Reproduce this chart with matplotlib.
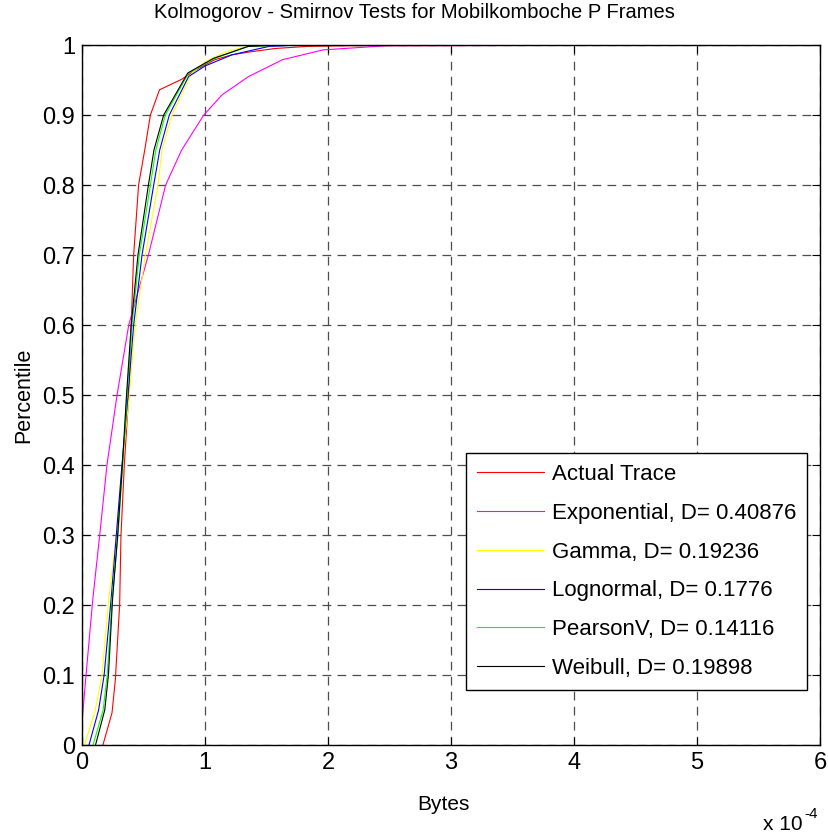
import matplotlib
matplotlib.use("Agg")
import matplotlib.pyplot as plt

plt.rcParams['font.family'] = ['Liberation Sans', 'DejaVu Sans']

# empirical trace and fitted CDFs, x in units of 1e-4 bytes
trace_x = [0.17, 0.244, 0.271, 0.306, 0.317, 0.344, 0.38, 0.40, 0.42, 0.46, 0.51, 0.556,
           0.63, 0.81, 0.92, 1.08, 1.22, 1.36, 1.57, 1.83, 2.15, 5.8]
trace_y = [0.0, 0.046, 0.093, 0.2, 0.3, 0.4, 0.5, 0.6, 0.7, 0.8, 0.85, 0.9,
           0.936, 0.951, 0.964, 0.979, 0.986, 0.99, 0.995, 0.998, 0.999, 1.0]

expo_x = [0.0, 0.033, 0.087, 0.144, 0.203, 0.285, 0.38, 0.54, 0.68, 0.81, 0.99,
          1.14, 1.355, 1.63, 1.96, 2.48, 5.48]
expo_y = [0.033, 0.1, 0.207, 0.3, 0.4, 0.5, 0.6, 0.7, 0.8, 0.85, 0.9,
          0.929, 0.955, 0.979, 0.993, 0.999, 1.0]

gamma_x = [0.02, 0.108, 0.163, 0.217, 0.279, 0.325, 0.385, 0.433, 0.515, 0.618, 0.65,
           0.73, 0.894, 1.0, 1.165, 1.38, 5.48]
gamma_y = [0.0, 0.05, 0.1, 0.207, 0.3, 0.4, 0.5, 0.6, 0.7, 0.8, 0.85,
           0.9, 0.96, 0.976, 0.99, 1.0, 1.0]

logn_x = [0.057, 0.135, 0.18, 0.236, 0.279, 0.325, 0.374, 0.42, 0.488, 0.583, 0.632,
          0.71, 0.867, 1.0, 1.22, 1.52, 1.77, 5.48]
logn_y = [0.0, 0.05, 0.1, 0.207, 0.3, 0.4, 0.5, 0.6, 0.7, 0.8, 0.85,
          0.9, 0.955, 0.97, 0.986, 0.998, 1.0, 1.0]

pear_x = [0.09, 0.172, 0.205, 0.244, 0.293, 0.331, 0.366, 0.407, 0.466, 0.556, 0.60,
          0.677, 0.867, 1.08, 1.355, 1.63, 5.48]
pear_y = [0.0, 0.05, 0.1, 0.207, 0.3, 0.4, 0.5, 0.6, 0.7, 0.8, 0.85,
          0.9, 0.96, 0.981, 0.998, 1.0, 1.0]

weib_x = [0.11, 0.185, 0.215, 0.248, 0.29, 0.328, 0.362, 0.40, 0.455, 0.54, 0.585,
          0.664, 0.86, 1.07, 1.35, 1.6, 5.48]
weib_y = [0.0, 0.05, 0.1, 0.207, 0.3, 0.4, 0.5, 0.6, 0.7, 0.8, 0.85,
          0.9, 0.96, 0.981, 0.998, 1.0, 1.0]

labels = ["Actual Trace", "Exponential, D= 0.40876", "Gamma, D= 0.19236",
          "Lognormal, D= 0.1776", "PearsonV, D= 0.14116", "Weibull, D= 0.19898"]
colors = ["#ff0000", "#ff00ff", "#ffff00", "#0000ff", "#00ff00", "#000000"]

series = [(trace_x, trace_y), (expo_x, expo_y), (gamma_x, gamma_y),
          (logn_x, logn_y), (pear_x, pear_y), (weib_x, weib_y)]

fig = plt.figure(figsize=(8.29, 8.34), dpi=100)
ax = fig.add_axes([82 / 829, 1 - 745 / 834, 738 / 829, 700 / 834])

for (xs, ys), lab, col in zip(series, labels, colors):
    ax.plot(xs, ys, color=col, lw=0.8, label=lab)

ax.set_xlim(0, 6)
ax.set_ylim(0, 1)
ax.set_xticks(range(0, 7))
ax.set_yticks([i / 10 for i in range(11)])
ax.set_yticklabels(["0"] + ["%.1f" % (i / 10) for i in range(1, 10)] + ["1"])
ax.tick_params(direction="in", length=6, top=True, right=True, labelsize=17, pad=5)
ax.grid(True, color="0.3", lw=0.9, linestyle=(0, (7, 5)))
for sp in ax.spines.values():
    sp.set_linewidth(1.0)

# title sits centred on the whole figure
fig.text(0.5, 1 - 13 / 834, "Kolmogorov - Smirnov Tests for Mobilkomboche P Frames",
         ha="center", va="center", fontsize=14.5)
ax.set_xlabel("Bytes", fontsize=15, labelpad=15, x=0.49)
ax.set_ylabel("Percentile", fontsize=15.5, labelpad=6)

# axis multiplier in the lower right corner
ax.text(0.977, -0.1, "x 10", transform=ax.transAxes, ha="right", va="top", fontsize=15)
ax.text(0.979, -0.088, "-4", transform=ax.transAxes, ha="left", va="top", fontsize=11)

leg = ax.legend(loc="lower right", bbox_to_anchor=(0.9824, 0.0786), borderaxespad=0,
                fontsize=16, handlelength=3.0, handletextpad=0.35, labelspacing=0.8,
                fancybox=False, framealpha=1, edgecolor="black", borderpad=0.5)
leg.get_frame().set_linewidth(1.0)

fig.savefig("out.png", dpi=100)
